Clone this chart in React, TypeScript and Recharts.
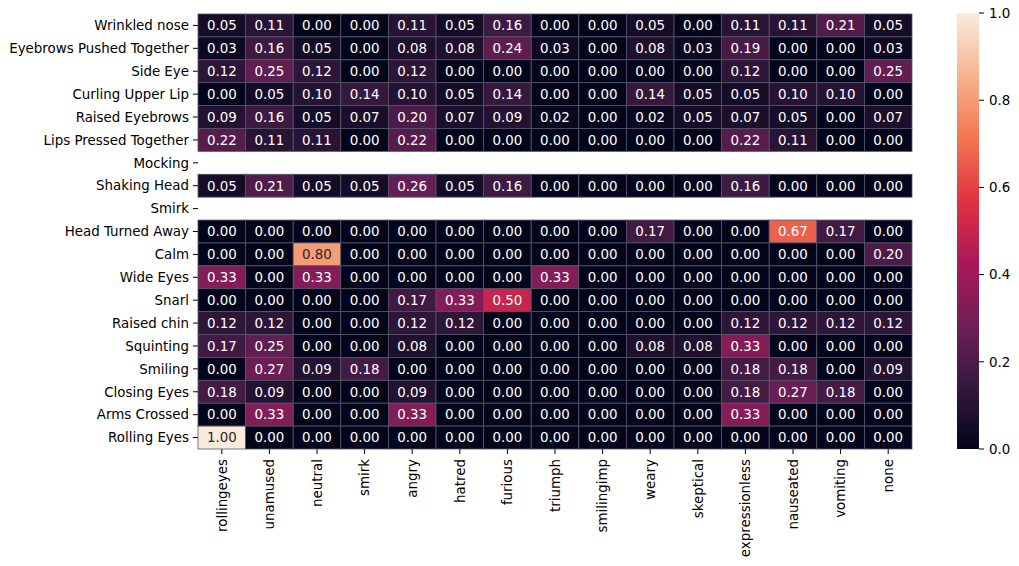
import React from "react";
import {
  ScatterChart,
  Scatter,
  XAxis,
  YAxis,
  BarChart,
  Bar,
} from "recharts";

const rows = [
  "Wrinkled nose",
  "Eyebrows Pushed Together",
  "Side Eye",
  "Curling Upper Lip",
  "Raised Eyebrows",
  "Lips Pressed Together",
  "Mocking",
  "Shaking Head",
  "Smirk",
  "Head Turned Away",
  "Calm",
  "Wide Eyes",
  "Snarl",
  "Raised chin",
  "Squinting",
  "Smiling",
  "Closing Eyes",
  "Arms Crossed",
  "Rolling Eyes",
];

const cols = [
  "rollingeyes",
  "unamused",
  "neutral",
  "smirk",
  "angry",
  "hatred",
  "furious",
  "triumph",
  "smilingimp",
  "weary",
  "skeptical",
  "expressionless",
  "nauseated",
  "vomiting",
  "none",
];

// one list per row, null = row has no data (blank in the heatmap)
const values: (number[] | null)[] = [
  [0.05, 0.11, 0.0, 0.0, 0.11, 0.05, 0.16, 0.0, 0.0, 0.05, 0.0, 0.11, 0.11, 0.21, 0.05],
  [0.03, 0.16, 0.05, 0.0, 0.08, 0.08, 0.24, 0.03, 0.0, 0.08, 0.03, 0.19, 0.0, 0.0, 0.03],
  [0.12, 0.25, 0.12, 0.0, 0.12, 0.0, 0.0, 0.0, 0.0, 0.0, 0.0, 0.12, 0.0, 0.0, 0.25],
  [0.0, 0.05, 0.1, 0.14, 0.1, 0.05, 0.14, 0.0, 0.0, 0.14, 0.05, 0.05, 0.1, 0.1, 0.0],
  [0.09, 0.16, 0.05, 0.07, 0.2, 0.07, 0.09, 0.02, 0.0, 0.02, 0.05, 0.07, 0.05, 0.0, 0.07],
  [0.22, 0.11, 0.11, 0.0, 0.22, 0.0, 0.0, 0.0, 0.0, 0.0, 0.0, 0.22, 0.11, 0.0, 0.0],
  null,
  [0.05, 0.21, 0.05, 0.05, 0.26, 0.05, 0.16, 0.0, 0.0, 0.0, 0.0, 0.16, 0.0, 0.0, 0.0],
  null,
  [0.0, 0.0, 0.0, 0.0, 0.0, 0.0, 0.0, 0.0, 0.0, 0.17, 0.0, 0.0, 0.67, 0.17, 0.0],
  [0.0, 0.0, 0.8, 0.0, 0.0, 0.0, 0.0, 0.0, 0.0, 0.0, 0.0, 0.0, 0.0, 0.0, 0.2],
  [0.33, 0.0, 0.33, 0.0, 0.0, 0.0, 0.0, 0.33, 0.0, 0.0, 0.0, 0.0, 0.0, 0.0, 0.0],
  [0.0, 0.0, 0.0, 0.0, 0.17, 0.33, 0.5, 0.0, 0.0, 0.0, 0.0, 0.0, 0.0, 0.0, 0.0],
  [0.12, 0.12, 0.0, 0.0, 0.12, 0.12, 0.0, 0.0, 0.0, 0.0, 0.0, 0.12, 0.12, 0.12, 0.12],
  [0.17, 0.25, 0.0, 0.0, 0.08, 0.0, 0.0, 0.0, 0.0, 0.08, 0.08, 0.33, 0.0, 0.0, 0.0],
  [0.0, 0.27, 0.09, 0.18, 0.0, 0.0, 0.0, 0.0, 0.0, 0.0, 0.0, 0.18, 0.18, 0.0, 0.09],
  [0.18, 0.09, 0.0, 0.0, 0.09, 0.0, 0.0, 0.0, 0.0, 0.0, 0.0, 0.18, 0.27, 0.18, 0.0],
  [0.0, 0.33, 0.0, 0.0, 0.33, 0.0, 0.0, 0.0, 0.0, 0.0, 0.0, 0.33, 0.0, 0.0, 0.0],
  [1.0, 0.0, 0.0, 0.0, 0.0, 0.0, 0.0, 0.0, 0.0, 0.0, 0.0, 0.0, 0.0, 0.0, 0.0],
];

const colorbarTicks = [0, 0.2, 0.4, 0.6, 0.8, 1.0];

// rocket colormap, sampled stops
const rocket: [number, string][] = [
  [0, "#03051a"],
  [1 / 7, "#35193e"],
  [2 / 7, "#701f57"],
  [3 / 7, "#ad1759"],
  [4 / 7, "#e13342"],
  [5 / 7, "#f37651"],
  [6 / 7, "#f6b48f"],
  [1, "#faebdd"],
];

const hex = (h: string) => [1, 3, 5].map((i) => parseInt(h.slice(i, i + 2), 16));

const rocketColor = (v: number) => {
  const t = Math.max(0, Math.min(1, v));
  for (let i = 1; i < rocket.length; i++) {
    if (t <= rocket[i][0]) {
      const [t0, c0] = rocket[i - 1];
      const [t1, c1] = rocket[i];
      const f = (t - t0) / (t1 - t0);
      const a = hex(c0);
      const b = hex(c1);
      const c = a.map((x, k) => Math.round(x + (b[k] - x) * f));
      return `rgb(${c[0]},${c[1]},${c[2]})`;
    }
  }
  return rocket[rocket.length - 1][1];
};

const cells = values.flatMap((row, r) =>
  row ? row.map((v, c) => ({ x: c + 0.5, y: r + 0.5, v })) : []
);

const W = 940;
const H = 566;
const M = { top: 14, right: 28, bottom: 0, left: 0 };
const Y_W = 198;
const X_H = 117;
const PLOT_W = W - M.left - M.right - Y_W;
const PLOT_H = H - M.top - M.bottom - X_H;
const CW = PLOT_W / cols.length;
const CH = PLOT_H / rows.length;

const FONT = "DejaVu Sans, sans-serif";
const FS = 13.4;

const Cell = (props: any) => {
  const { cx, cy, payload } = props;
  const v = payload.v as number;
  return (
    <g>
      <rect
        x={cx - CW / 2}
        y={cy - CH / 2}
        width={CW}
        height={CH}
        fill={rocketColor(v)}
        stroke="#55556a"
        strokeWidth={0.8}
      />
      <text
        x={cx}
        y={cy}
        dy="0.36em"
        textAnchor="middle"
        fontSize={FS}
        fontFamily={FONT}
        fill={v > 0.7 ? "#262626" : "#ffffff"}
      >
        {v.toFixed(2)}
      </text>
    </g>
  );
};

const XTick = (props: any) => {
  const { x, y, payload } = props;
  return (
    <g transform={`translate(${x},${y})`}>
      <text
        transform="rotate(-90)"
        textAnchor="end"
        dy="0.35em"
        fontSize={FS}
        fontFamily={FONT}
        fill="#000"
      >
        {cols[Math.floor(payload.value)]}
      </text>
    </g>
  );
};

const App = () => {
  return (
    <div style={{ position: "absolute", left: 0, top: 0, width: 1019, height: 566, background: "#fff" }}>
      <div style={{ position: "absolute", left: 0, top: 0 }}>
        <ScatterChart width={W} height={H} margin={M}>
          <XAxis
            type="number"
            dataKey="x"
            domain={[0, cols.length]}
            ticks={cols.map((_, i) => i + 0.5)}
            interval={0}
            axisLine={false}
            tickSize={5}
            tickMargin={5}
            tickLine={{ stroke: "#000" }}
            height={X_H}
            tick={<XTick />}
          />
          <YAxis
            type="number"
            dataKey="y"
            domain={[0, rows.length]}
            reversed
            ticks={rows.map((_, i) => i + 0.5)}
            interval={0}
            tickFormatter={(v: number) => rows[Math.floor(v)]}
            axisLine={false}
            tickSize={5}
            tickMargin={4}
            tickLine={{ stroke: "#000" }}
            width={Y_W}
            tick={{ fill: "#000", fontSize: FS, fontFamily: FONT }}
          />
          <Scatter data={cells} shape={<Cell />} isAnimationActive={false} />
        </ScatterChart>
      </div>
      <div style={{ position: "absolute", left: 940, top: 0 }}>
        <BarChart
          width={79}
          height={H}
          data={[{ name: "cbar", v: 1 }]}
          margin={{ top: 13, right: 0, bottom: X_H, left: 17 }}
          barCategoryGap={0}
        >
          <defs>
            <linearGradient id="rocketGrad" x1="0" y1="1" x2="0" y2="0">
              {rocket.map(([t, c]) => (
                <stop key={t} offset={t} stopColor={c} />
              ))}
            </linearGradient>
          </defs>
          <XAxis dataKey="name" hide />
          <YAxis
            orientation="right"
            domain={[0, 1]}
            ticks={colorbarTicks}
            tickFormatter={(v: number) => v.toFixed(1)}
            axisLine={false}
            tickSize={5}
            tickMargin={5}
            tickLine={{ stroke: "#000" }}
            width={40}
            tick={{ fill: "#000", fontSize: FS, fontFamily: FONT, textAnchor: "start" }}
          />
          <Bar dataKey="v" fill="url(#rocketGrad)" isAnimationActive={false} />
        </BarChart>
      </div>
    </div>
  );
};

export default App;
